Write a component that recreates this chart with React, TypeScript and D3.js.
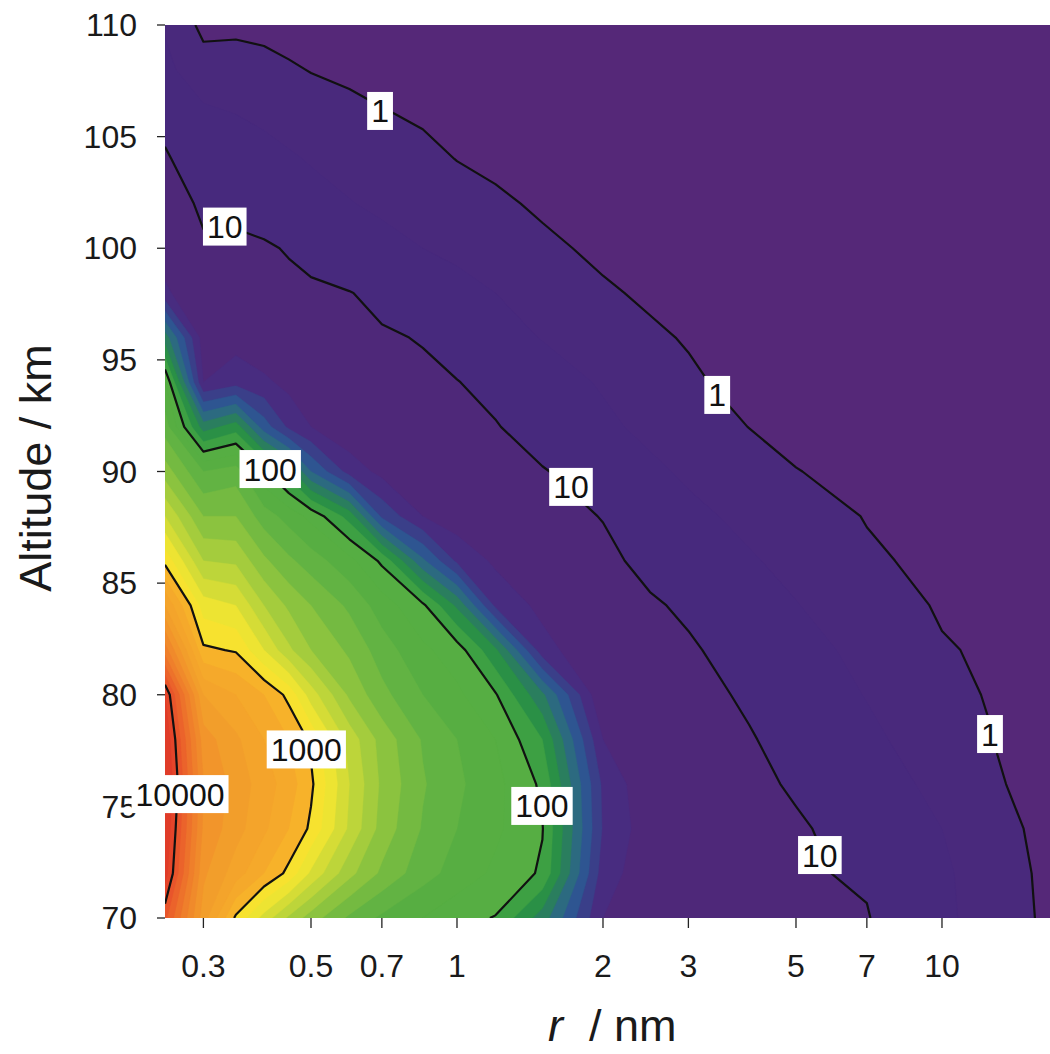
import React from "react";
import * as d3 from "d3";

// Grid of the contoured quantity, stored as log10(value)
const RADII = [0.25, 0.3, 0.35, 0.4, 0.45, 0.5, 0.6, 0.7, 0.85, 1, 1.2, 1.5, 2, 2.5, 3, 4, 5, 7, 10, 13, 16.7];
const ALTITUDES = [110, 108, 106, 104, 102, 100, 98, 96, 94, 92, 90, 88, 86, 84, 82, 80, 78, 76, 74, 72, 70];

const alt110 = [0.45, -0.12, -0.12, -0.16, -0.2, -0.24, -0.3, -0.35, -0.4, -0.45, -0.5, -0.55, -0.62, -0.66, -0.7, -0.75, -0.8, -0.85, -0.9, -0.95, -1.0];
const alt108 = [0.62, 0.2, 0.25, 0.18, 0.06, -0.02, -0.1, -0.16, -0.22, -0.28, -0.34, -0.4, -0.48, -0.53, -0.57, -0.63, -0.68, -0.74, -0.8, -0.84, -0.88];
const alt106 = [0.92, 0.6, 0.5, 0.42, 0.33, 0.25, 0.13, 0.03, -0.06, -0.13, -0.2, -0.28, -0.37, -0.43, -0.48, -0.54, -0.59, -0.65, -0.72, -0.77, -0.82];
const alt104 = [1.03, 0.85, 0.72, 0.64, 0.55, 0.47, 0.35, 0.25, 0.12, -0.01, -0.09, -0.17, -0.27, -0.33, -0.38, -0.45, -0.5, -0.56, -0.63, -0.68, -0.73];
const alt102 = [1.12, 0.96, 0.87, 0.8, 0.72, 0.64, 0.52, 0.42, 0.3, 0.19, 0.07, -0.06, -0.17, -0.24, -0.29, -0.36, -0.42, -0.48, -0.55, -0.6, -0.65];
const alt100 = [1.22, 1.03, 1.1, 1.05, 0.97, 0.89, 0.76, 0.64, 0.5, 0.38, 0.24, 0.08, -0.08, -0.17, -0.23, -0.3, -0.35, -0.42, -0.49, -0.54, -0.59];
const alt98 = [1.33, 1.15, 1.18, 1.14, 1.1, 1.06, 1.01, 0.93, 0.82, 0.68, 0.5, 0.3, 0.05, -0.06, -0.12, -0.2, -0.25, -0.32, -0.38, -0.43, -0.48];
const alt96 = [1.75, 1.25, 1.26, 1.22, 1.18, 1.13, 1.07, 1.03, 0.985, 0.85, 0.68, 0.48, 0.25, 0.06, -0.03, -0.12, -0.17, -0.24, -0.3, -0.35, -0.4];
const alt94 = [2.1, 1.3, 1.36, 1.32, 1.27, 1.22, 1.16, 1.1, 1.05, 1.01, 0.9, 0.73, 0.45, 0.22, 0.06, -0.12, -0.18, -0.25, -0.3, -0.33, -0.37];
const alt92 = [2.25, 1.75, 1.85, 1.55, 1.38, 1.3, 1.22, 1.16, 1.1, 1.06, 1.02, 0.85, 0.6, 0.38, 0.2, -0.005, -0.1, -0.18, -0.24, -0.28, -0.32];
const alt90 = [2.45, 2.2, 2.25, 2.02, 1.85, 1.6, 1.36, 1.27, 1.2, 1.15, 1.09, 1.02, 0.85, 0.6, 0.42, 0.18, 0.01, -0.1, -0.17, -0.21, -0.25];
const alt88 = [2.7, 2.4, 2.4, 2.25, 2.16, 2.07, 1.86, 1.48, 1.3, 1.24, 1.18, 1.1, 0.99, 0.78, 0.62, 0.38, 0.2, -0.02, -0.1, -0.14, -0.18];
const alt86 = [2.97, 2.6, 2.58, 2.42, 2.32, 2.25, 2.13, 1.98, 1.62, 1.38, 1.28, 1.18, 1.06, 0.93, 0.8, 0.55, 0.36, 0.06, -0.1, -0.13, -0.16];
const alt84 = [3.3, 2.85, 2.8, 2.6, 2.48, 2.4, 2.28, 2.15, 2.02, 1.78, 1.38, 1.27, 1.14, 1.03, 0.96, 0.72, 0.52, 0.2, -0.04, -0.1, -0.13];
const alt82 = [3.65, 3.02, 2.99, 2.8, 2.62, 2.5, 2.38, 2.25, 2.12, 2.05, 1.82, 1.34, 1.2, 1.1, 1.03, 0.9, 0.7, 0.35, 0.03, -0.06, -0.1];
const alt80 = [4.1, 3.3, 3.2, 3.1, 2.97, 2.75, 2.48, 2.33, 2.2, 2.12, 2.01, 1.72, 1.2, 1.13, 1.07, 0.97, 0.78, 0.48, 0.12, -0.05, -0.08];
const alt78 = [4.2, 3.45, 3.32, 3.2, 3.1, 2.98, 2.66, 2.46, 2.29, 2.2, 2.1, 1.9, 1.3, 1.18, 1.12, 1.015, 0.93, 0.6, 0.25, -0.01, -0.07];
const alt76 = [4.25, 3.5, 3.36, 3.25, 3.15, 3.02, 2.7, 2.48, 2.31, 2.22, 2.13, 1.98, 1.38, 1.22, 1.16, 1.06, 0.97, 0.72, 0.38, 0.02, -0.1];
const alt74 = [4.2, 3.48, 3.34, 3.22, 3.1, 2.98, 2.68, 2.46, 2.29, 2.2, 2.12, 2.005, 1.39, 1.24, 1.18, 1.1, 1.03, 0.9, 0.5, 0.1, -0.1];
const alt72 = [4.15, 3.42, 3.25, 3.1, 2.97, 2.78, 2.53, 2.38, 2.24, 2.16, 2.08, 1.985, 1.35, 1.23, 1.17, 1.11, 1.04, 0.96, 0.6, 0.15, -0.08];
const alt70 = [3.93, 3.35, 2.98, 2.76, 2.58, 2.45, 2.28, 2.18, 2.1, 2.03, 1.995, 1.75, 1.3, 1.22, 1.17, 1.12, 1.08, 1.02, 0.6, 0.25, -0.1];

const LOG_GRID = [alt110, alt108, alt106, alt104, alt102, alt100, alt98, alt96, alt94, alt92, alt90, alt88, alt86, alt84, alt82, alt80, alt78, alt76, alt74, alt72, alt70];

// filled bands (log10 lower bounds) and their colours
const BELOW_COLOR = "#552878";
const FILL_LEVELS = [0, 0.5, 1.0, 1.3, 1.4, 1.5, 1.6, 1.7, 1.8, 1.9, 2.0, 2.1, 2.2, 2.3, 2.4, 2.5, 2.6, 2.7, 2.8, 2.9, 3.0, 3.1, 3.2, 3.3, 3.4, 3.5, 3.6, 3.7, 3.8, 3.9, 4.0, 4.1];
const FILL_COLORS = [
  "#49297C", "#47297D", "#4E2879", "#482C80", "#3A3F89", "#2E5591", "#2C6A80", "#2A7E5E", "#2A9046", "#3DA043",
  "#56AE43", "#57AE42", "#62B343", "#74BA41", "#8BC33F", "#A4CC3D", "#BDD53A", "#D5DC36", "#EDE432", "#F7E22F",
  "#F7B22A", "#F5A92B", "#F4A42B", "#F29E2B", "#F2952B", "#F08A2B", "#EF7F2B", "#ED722B", "#EB632B", "#E8552B",
  "#E4452A", "#E03C29",
];

// contour lines and their labels
const LINE_LEVELS = [0, 1, 2, 3, 4];
const LABEL_TEXT = ["1", "10", "1", "10", "100", "1", "1000", "10000", "100", "10"];
const LABEL_R = [0.694, 0.332, 3.44, 1.718, 0.412, 12.56, 0.489, 0.2685, 1.497, 5.6];
const LABEL_ALT = [106.15, 100.97, 93.43, 89.31, 90.11, 78.24, 77.55, 75.55, 75.02, 72.82];

const X_TICKS = [0.3, 0.5, 0.7, 1, 2, 3, 5, 7, 10];
const X_TICK_LABELS = ["0.3", "0.5", "0.7", "1", "2", "3", "5", "7", "10"];
const Y_TICKS = [70, 75, 80, 85, 90, 95, 100, 105, 110];

const FONT = "'Liberation Sans', Arial, Helvetica, sans-serif";

export default function App() {
  const W = 1050;
  const H = 1054;
  const left = 165, right = 1050, top = 25, bottom = 918;
  const x = d3.scaleLog().domain([0.25, 16.7]).range([left, right]);
  const y = d3.scaleLinear().domain([70, 110]).range([bottom, top]);

  const nx = RADII.length;
  const ny = ALTITUDES.length;
  const XP = RADII.map((r) => x(r));
  const YP = ALTITUDES.map((a) => y(a));
  const values = LOG_GRID.flat();
  const gen = d3.contours().size([nx, ny]);

  const interp = (arr: number[], c: number, n: number) => {
    const u = Math.max(0, Math.min(n - 1, c - 0.5));
    const i = Math.min(n - 2, Math.floor(u));
    const t = u - i;
    return arr[i] + t * (arr[i + 1] - arr[i]);
  };
  const mapPt = (p: number[]) => [interp(XP, p[0], nx), interp(YP, p[1], ny)];

  const fillPath = (level: number) => {
    const mp = gen.contour(values, level);
    let d = "";
    for (const poly of mp.coordinates) {
      for (const ring of poly) {
        ring.forEach((p: number[], k: number) => {
          const [a, b] = mapPt(p);
          d += (k ? "L" : "M") + a.toFixed(2) + "," + b.toFixed(2);
        });
        d += "Z";
      }
    }
    return d;
  };

  const near = (a: number, b: number) => Math.abs(a - b) < 0.01;
  const onBoundary = (p: number[], q: number[]) =>
    (near(p[0], XP[0]) && near(q[0], XP[0])) ||
    (near(p[0], XP[nx - 1]) && near(q[0], XP[nx - 1])) ||
    (near(p[1], YP[0]) && near(q[1], YP[0])) ||
    (near(p[1], YP[ny - 1]) && near(q[1], YP[ny - 1]));

  const linePath = (level: number) => {
    const mp = gen.contour(values, level);
    let d = "";
    for (const poly of mp.coordinates) {
      for (const ring of poly) {
        const pts = ring.map(mapPt);
        let pen = false;
        for (let k = 0; k < pts.length - 1; k++) {
          const p = pts[k], q = pts[k + 1];
          if (onBoundary(p, q)) { pen = false; continue; }
          if (!pen) { d += "M" + p[0].toFixed(2) + "," + p[1].toFixed(2); pen = true; }
          d += "L" + q[0].toFixed(2) + "," + q[1].toFixed(2);
        }
      }
    }
    return d;
  };

  const fs = 32;
  return (
    <svg width={W} height={H} style={{ position: "absolute", left: 0, top: 0, background: "#fff" }} fontFamily={FONT}>
      <defs>
        <clipPath id="plotclip">
          <rect x={left} y={top} width={right - left} height={bottom - top} />
        </clipPath>
      </defs>
      <g clipPath="url(#plotclip)">
        <rect x={left} y={top} width={right - left} height={bottom - top} fill={BELOW_COLOR} />
        {FILL_LEVELS.map((lv, i) => (
          <path key={"f" + i} d={fillPath(lv)} fill={FILL_COLORS[i]} stroke={FILL_COLORS[i]} strokeWidth={0.4} />
        ))}
        {LINE_LEVELS.map((lv, i) => (
          <path key={"l" + i} d={linePath(lv)} fill="none" stroke="#111" strokeWidth={2.2} strokeLinejoin="round" />
        ))}
      </g>

      {/* y axis */}
      {Y_TICKS.map((t) => (
        <g key={"y" + t}>
          <line x1={157} x2={left} y1={y(t)} y2={y(t)} stroke="#222" strokeWidth={1.3} />
          <text x={137} y={y(t)} dy="0.35em" textAnchor="end" fontSize={fs} fill="#1a1a1a">{t}</text>
        </g>
      ))}
      {/* x axis */}
      {X_TICKS.map((t, i) => (
        <g key={"x" + t}>
          <line x1={x(t)} x2={x(t)} y1={bottom} y2={bottom + 10} stroke="#222" strokeWidth={1.3} />
          <text x={x(t)} y={977} textAnchor="middle" fontSize={fs} fill="#1a1a1a">{X_TICK_LABELS[i]}</text>
        </g>
      ))}

      {/* contour labels */}
      {LABEL_TEXT.map((s, i) => {
        const cx = x(LABEL_R[i]);
        const cy = y(LABEL_ALT[i]);
        const w = s.length * 17.8 + 8;
        const h = 38;
        return (
          <g key={"lab" + i}>
            <rect x={cx - w / 2} y={cy - h / 2} width={w} height={h} fill="#fff" />
            <text x={cx} y={cy} dy="0.36em" textAnchor="middle" fontSize={fs} fill="#111">{s}</text>
          </g>
        );
      })}

      {/* axis titles */}
      <text transform="translate(51,468) rotate(-90)" textAnchor="middle" fontSize={45} fill="#1a1a1a">Altitude / km</text>
      <text y={1041} fontSize={45} fill="#1a1a1a">
        <tspan x={548} fontStyle="italic">r</tspan>
        <tspan x={589}>/ nm</tspan>
      </text>
    </svg>
  );
}
